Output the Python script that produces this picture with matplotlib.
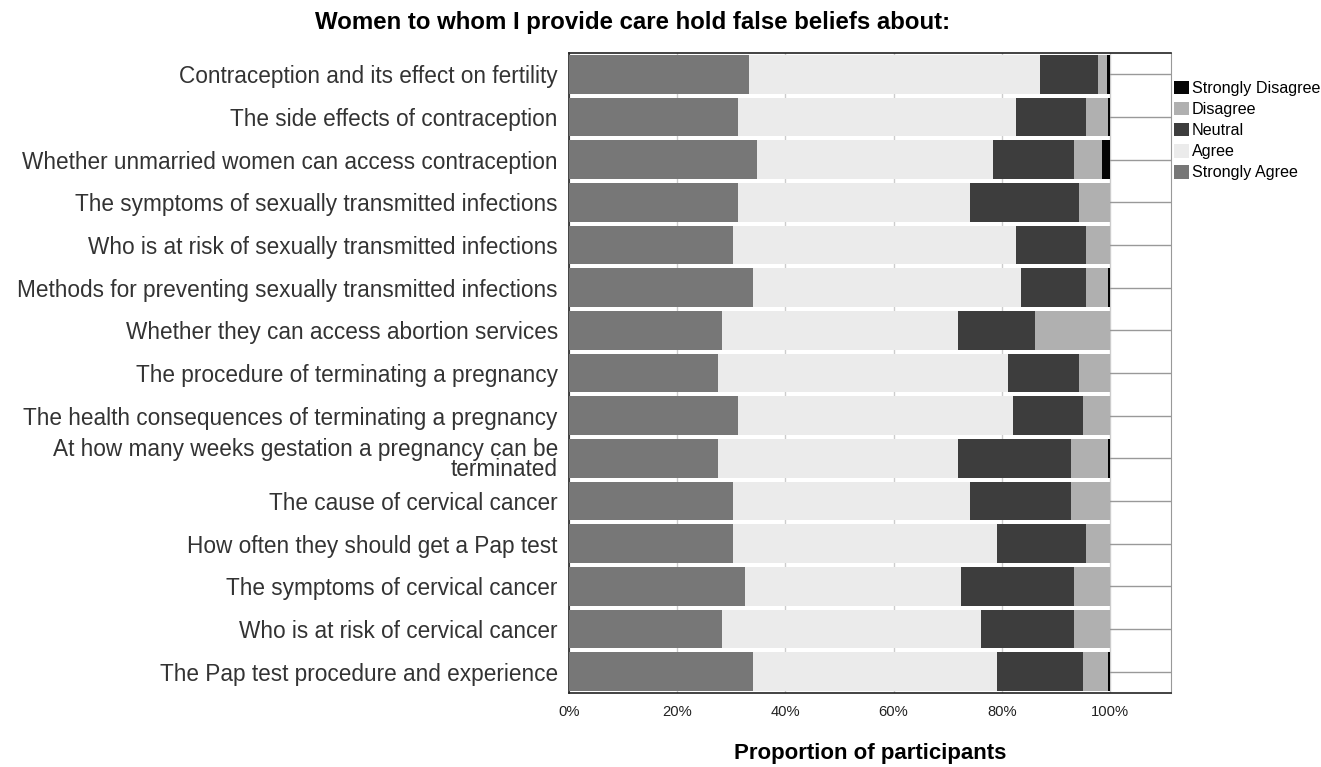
import matplotlib
matplotlib.use("Agg")
import matplotlib.pyplot as plt
import numpy as np

plt.rcParams['font.family'] = ['Liberation Sans', 'DejaVu Sans']

categories = [
    "Contraception and its effect on fertility",
    "The side effects of contraception",
    "Whether unmarried women can access contraception",
    "The symptoms of sexually transmitted infections",
    "Who is at risk of sexually transmitted infections",
    "Methods for preventing sexually transmitted infections",
    "Whether they can access abortion services",
    "The procedure of terminating a pregnancy",
    "The health consequences of terminating a pregnancy",
    "At how many weeks gestation a pregnancy can be\nterminated",
    "The cause of cervical cancer",
    "How often they should get a Pap test",
    "The symptoms of cervical cancer",
    "Who is at risk of cervical cancer",
    "The Pap test procedure and experience",
]

strongly_agree    = [33.2, 31.2, 34.7, 31.2, 30.4, 34.0, 28.2, 27.5, 31.2, 27.5, 30.4, 30.4, 32.6, 28.2, 34.0]
agree             = [53.9, 51.5, 43.7, 42.9, 52.3, 49.5, 43.7, 53.7, 50.9, 44.4, 43.7, 48.7, 39.9, 48.0, 45.1]
neutral           = [10.7, 12.9, 14.9, 20.1, 12.9, 12.1, 14.3, 13.0, 12.9, 20.9, 18.7, 16.5, 20.8, 17.1, 15.9]
disagree          = [1.7, 4.0, 5.3, 5.8, 4.4, 4.0, 13.8, 5.8, 5.0, 6.8, 7.2, 4.4, 6.7, 6.7, 4.6]
strongly_disagree = [0.5, 0.4, 1.4, 0.0, 0.0, 0.4, 0.0, 0.0, 0.0, 0.4, 0.0, 0.0, 0.0, 0.0, 0.4]

series_names = ["Strongly Agree", "Agree", "Neutral", "Disagree", "Strongly Disagree"]
series_colors = ["#777777", "#ebebeb", "#3d3d3d", "#b0b0b0", "#050505"]
x_ticks = [0, 20, 40, 60, 80, 100]
x_tick_labels = ["0%", "20%", "40%", "60%", "80%", "100%"]

fig = plt.figure(figsize=(13.21, 7.67), dpi=100)
ax = fig.add_axes([0.4307, 0.0965, 0.8865 - 0.4307, 0.9309 - 0.0965])

y = np.arange(len(categories))
data = [strongly_agree, agree, neutral, disagree, strongly_disagree]
left = np.zeros(len(categories))
handles = {}
for name, vals, col in zip(series_names, data, series_colors):
    vals = np.array(vals)
    h = ax.barh(y, vals, left=left, height=0.9, color=col, edgecolor='none', zorder=3, label=name)
    handles[name] = h
    left += vals

ax.set_ylim(len(categories) - 0.5, -0.5)
ax.set_xlim(0, 111.3)
ax.set_yticks(y)
ax.set_yticklabels(categories, fontsize=16.3, color="#333333")
for t in ax.get_yticklabels():
    if "\n" in t.get_text():
        t.set_linespacing(0.85)
ax.set_xticks(x_ticks)
ax.set_xticklabels(x_tick_labels, fontsize=10.6, color="#222222")
ax.tick_params(axis='both', length=0)
ax.tick_params(axis='y', pad=8)
ax.tick_params(axis='x', pad=9)

ax.grid(axis='x', color="#cccccc", linewidth=1, zorder=0)
ax.grid(axis='y', color="#999999", linewidth=1, zorder=0)
ax.set_axisbelow(True)

for s in ['left', 'bottom', 'top']:
    ax.spines[s].set_color("#222222")
    ax.spines[s].set_linewidth(1.2)
ax.spines['right'].set_color("#999999")

fig.text(0.659, 0.017, "Proportion of participants", fontsize=16, fontweight='bold',
         ha='center', va='center')
fig.text(0.4785, 0.971, "Women to whom I provide care hold false beliefs about:",
         fontsize=17.3, fontweight='bold', ha='center', va='center')

order = ["Strongly Disagree", "Disagree", "Neutral", "Agree", "Strongly Agree"]
leg = fig.legend([handles[n] for n in order], order, loc='upper left',
                 bbox_to_anchor=(1174 / 1321, 1 - 81 / 767), bbox_transform=fig.transFigure,
                 frameon=False, fontsize=11.6,
                 handlelength=0.9, handleheight=0.9, handletextpad=0.2,
                 labelspacing=0.36, borderaxespad=0, borderpad=0)

fig.savefig("out.png", dpi=100, facecolor='white')
